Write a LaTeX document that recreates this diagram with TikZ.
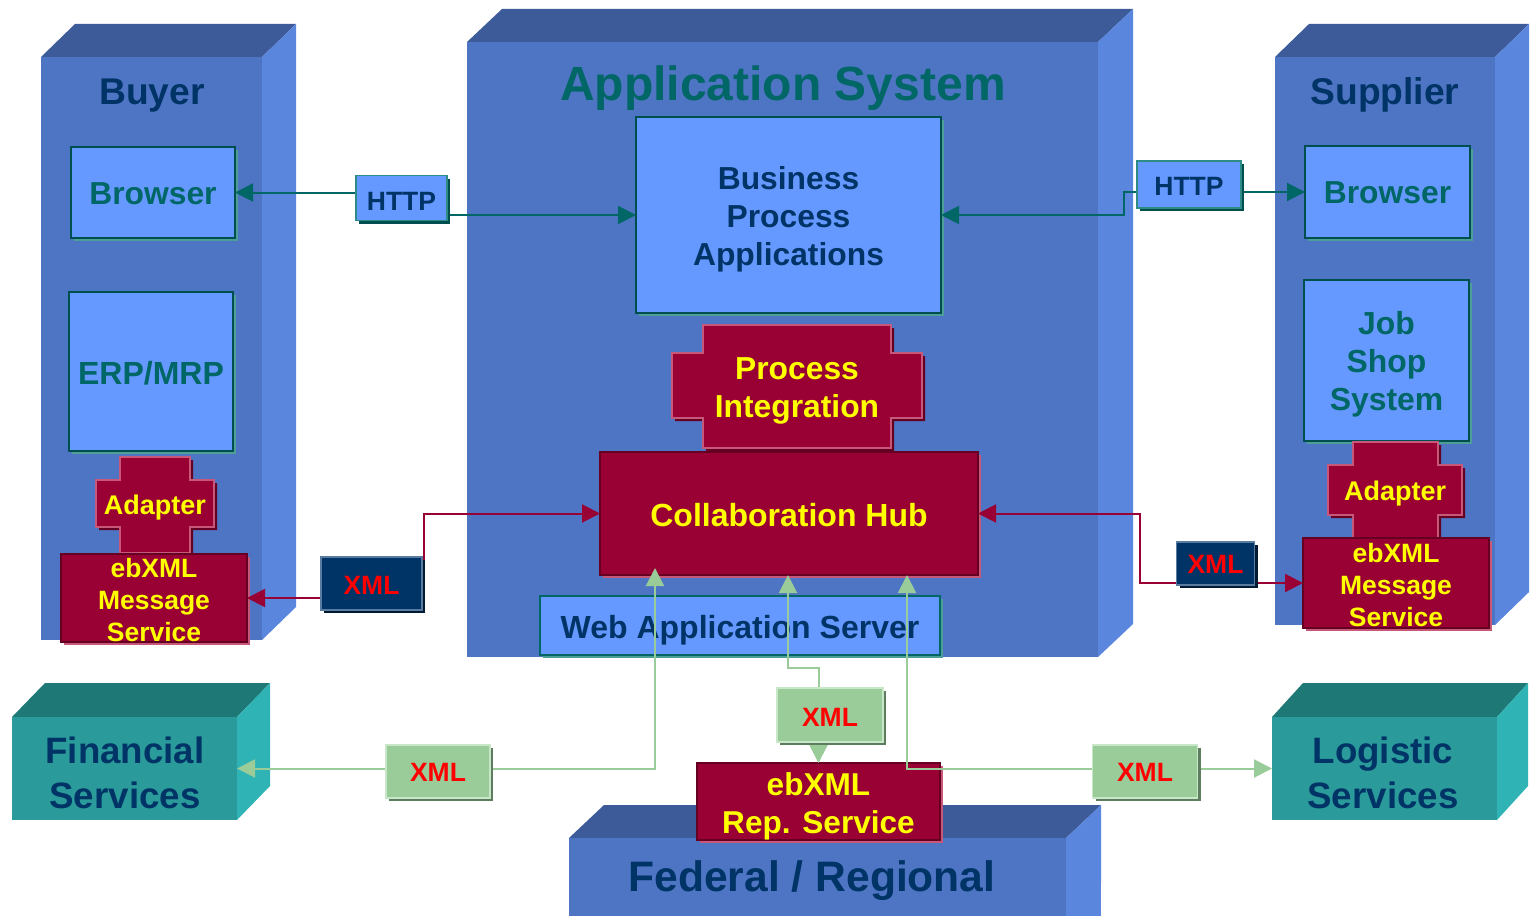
\documentclass[tikz,border=0pt]{standalone}
\usepackage{fontspec}
\setmainfont{Liberation Sans}
\usetikzlibrary{arrows.meta,shadows}
\definecolor{bluefront}{HTML}{4E75C3}
\definecolor{bluetop}{HTML}{3D5B98}
\definecolor{blueside}{HTML}{5A86DE}
\definecolor{tealfront}{HTML}{2A9B9A}
\definecolor{tealtop}{HTML}{1E7876}
\definecolor{tealside}{HTML}{2FB3B5}
\definecolor{lblue}{HTML}{6699FF}
\definecolor{dteal}{HTML}{004F4F}
\definecolor{tshadow}{HTML}{4E9E98}
\definecolor{ttext}{HTML}{006666}
\definecolor{navy}{HTML}{003366}
\definecolor{maroon}{HTML}{990033}
\definecolor{mdark}{HTML}{660022}
\definecolor{mpink}{HTML}{C8587A}
\definecolor{yel}{HTML}{FFFF00}
\definecolor{xmledge}{HTML}{5A7BA0}
\definecolor{xmlshadow}{HTML}{001A33}
\definecolor{lgreen}{HTML}{99CC99}
\definecolor{gedge}{HTML}{C8E6C8}
\definecolor{gshadow}{HTML}{5E7D5E}
\definecolor{hedge}{HTML}{2E8C86}
\definecolor{redtext}{HTML}{FF0000}
\newcommand\fsz[2]{\bfseries\fontsize{#1pt}{#2pt}\selectfont}
\newcommand\prism[7]{%
  \fill[#7top] (#1,#2) -- (#1+#5,#2-#6) -- (#3+#5,#2-#6) -- (#3,#2) -- cycle;
  \fill[#7side] (#3,#2) -- (#3+#5,#2-#6) -- (#3+#5,#4-#6) -- (#3,#4) -- cycle;
  \fill[#7front] (#1,#2) rectangle (#3,#4);}
\newcommand\plusshape[8]{%
  \fill[mdark,shift={(3,3)}] (#1,#3) -- (#2,#3) -- (#2,#7) -- (#6,#7) -- (#6,#8) -- (#2,#8) -- (#2,#4) -- (#1,#4) -- (#1,#8) -- (#5,#8) -- (#5,#7) -- (#1,#7) -- cycle;
  \filldraw[fill=maroon,draw=mpink,line width=1.5pt] (#1,#3) -- (#2,#3) -- (#2,#7) -- (#6,#7) -- (#6,#8) -- (#2,#8) -- (#2,#4) -- (#1,#4) -- (#1,#8) -- (#5,#8) -- (#5,#7) -- (#1,#7) -- cycle;}
\pgfdeclarelayer{back}
\pgfdeclarelayer{wires}
\pgfsetlayers{back,wires,main}
\begin{document}
\begin{tikzpicture}[x=1pt,y=-1pt,font=\bfseries,
  >={Triangle[length=18pt,width=18pt]},
  frame/.style={rectangle,inner sep=0pt,outer sep=0pt},
  lbox/.style={frame,fill=lblue,draw=dteal,line width=1.5pt,
    drop shadow={shadow xshift=3pt,shadow yshift=-3pt,fill=tshadow,opacity=1}},
  mbox/.style={frame,fill=maroon,draw=mdark,line width=1.5pt,
    drop shadow={shadow xshift=3pt,shadow yshift=-3pt,fill=mpink,opacity=1}},
  xbox/.style={frame,fill=navy,draw=xmledge,line width=1.5pt,
    drop shadow={shadow xshift=3pt,shadow yshift=-3pt,fill=xmlshadow,opacity=1}},
  gbox/.style={frame,fill=lgreen,draw=gedge,line width=1.5pt,
    drop shadow={shadow xshift=3pt,shadow yshift=-3pt,fill=gshadow,opacity=1}},
  hbox/.style={frame,fill=lblue,draw=hedge,line width=1.5pt,
    drop shadow={shadow xshift=3pt,shadow yshift=-3pt,fill=dteal,opacity=1}},
  txt/.style={inner sep=0pt,text=navy,align=center},
  tealtxt/.style={txt,text=ttext},
  yeltxt/.style={txt,text=yel},
  redtxt/.style={txt,text=redtext,font=\fsz{26.5}{32}},
  tline/.style={draw=ttext,line width=2pt},
  mline/.style={draw=maroon,line width=2pt},
  gline/.style={draw=lgreen,line width=2pt}]
\useasboundingbox (0,0) rectangle (1530,915);

\begin{pgfonlayer}{back}
\prism{41}{57}{262}{640}{34}{33}{blue}
\prism{467}{42}{1098}{657}{35}{33}{blue}
\prism{1275}{57}{1495}{625}{34}{33}{blue}
\prism{12}{717}{237}{820}{33}{34}{teal}
\prism{1272}{717}{1497}{820}{31}{34}{teal}
\prism{569}{838}{1066}{916}{35}{33}{blue}
\fill[blueside] (1066,838) rectangle (1101,916);

\node[frame,minimum width=225,minimum height=103] (fin) at (124.5,768.5) {};
\node[frame,minimum width=225,minimum height=103] (log) at (1384.5,768.5) {};
\node[txt,font=\fsz{36.7}{45}] (finT) at (125,773) {Financial\\Services};
\node[txt,font=\fsz{36.7}{45}] (logT) at (1383,773) {Logistic\\Services};
\node[txt,font=\fsz{37.2}{44}] (buyer) at (152,96) {Buyer};
\node[txt,font=\fsz{37.2}{44}] (supplier) at (1385,95) {Supplier};
\node[tealtxt,font=\fsz{48}{58}] (appsys) at (783,88) {Application System};
\node[txt,font=\fsz{42.6}{50}] (federal) at (812,881) {Federal / Regional};

\node[lbox,minimum width=164,minimum height=91] (bbrow) at (153,192.5) {};
\node[tealtxt,font=\fsz{31.8}{38}] (bbrowT) at ([yshift=-1pt]bbrow.center) {Browser};
\node[lbox,minimum width=164,minimum height=159] (berp) at (151,371.5) {};
\node[tealtxt,font=\fsz{32}{38}] (berpT) at ([yshift=-2pt]berp.center) {ERP/MRP};
\node[lbox,minimum width=165,minimum height=92] (sbrow) at (1387.5,192) {};
\node[tealtxt,font=\fsz{31.8}{38}] (sbrowT) at ([yshift=-1pt]sbrow.center) {Browser};
\node[lbox,minimum width=165,minimum height=161] (sjob) at (1386.5,360.5) {};
\node[tealtxt,font=\fsz{31.9}{38}] (sjobT) at ([yshift=-4pt]sjob.center) {Job\\Shop\\System};
\node[lbox,minimum width=305,minimum height=196] (bpa) at (788.5,215) {};
\node[txt,font=\fsz{31.8}{38}] (bpaT) at ([yshift=-4pt]bpa.center) {Business\\Process\\Applications};

\plusshape{120}{190}{457}{553}{96}{214}{480}{527}
\node[yeltxt,font=\fsz{27}{32}] (badapt) at (155,508) {Adapter};
\plusshape{1353}{1438}{442}{540}{1328}{1462}{465}{515}
\node[yeltxt,font=\fsz{27}{32}] (sadapt) at (1395,494) {Adapter};
\plusshape{703}{891}{325}{448}{672}{922}{353}{418}
\node[yeltxt,font=\fsz{31.8}{38}] (pint) at (797,391) {Process\\Integration};

\node[mbox,minimum width=186,minimum height=88] (bmsg) at (154,598) {};
\node[yeltxt,font=\fsz{26.5}{32}] (bmsgT) at ([yshift=-2pt]bmsg.center) {ebXML\\Message\\Service};
\node[mbox,minimum width=186,minimum height=90] (smsg) at (1396,583) {};
\node[yeltxt,font=\fsz{26.5}{32}] (smsgT) at ([yshift=-2pt]smsg.center) {ebXML\\Message\\Service};
\node[mbox,minimum width=378,minimum height=123] (hub) at (789,513.5) {};
\node[yeltxt,font=\fsz{32}{38}] (hubT) at ([yshift=-2pt]hub.center) {Collaboration Hub};
\node[lbox,draw=ttext,minimum width=400,minimum height=59] (was) at (740,625.5) {};
\node[txt,font=\fsz{32}{38}] (wasT) at ([yshift=-5pt]was.center) {Web Application Server};
\node[mbox,minimum width=243,minimum height=77] (rep) at (818.5,801.5) {};
\node[yeltxt,font=\fsz{31.6}{38}] (repT) at ([yshift=-5pt]rep.center) {ebXML\\Rep. Service};
\end{pgfonlayer}

\node[hbox,minimum width=91,minimum height=45] (httpL) at (401.5,198) {};
\node[txt,font=\fsz{26.5}{32}] (httpLT) at ([yshift=-3pt]httpL.center) {HTTP};
\node[hbox,minimum width=104,minimum height=47] (httpR) at (1189,184.5) {};
\node[txt,font=\fsz{26.5}{32}] (httpRT) at ([yshift=-2pt]httpR.center) {HTTP};
\node[xbox,minimum width=101,minimum height=53] (bxml) at (371.5,583.5) {};
\node[redtxt] (bxmlT) at ([yshift=-2pt]bxml.center) {XML};
\node[xbox,minimum width=78,minimum height=43] (sxml) at (1215.5,563.5) {};
\node[redtxt] (sxmlT) at ([yshift=-1pt]sxml.center) {XML};
\node[gbox,minimum width=104,minimum height=53] (gxml1) at (438,771.5) {};
\node[redtxt] (gxml1T) at ([yshift=-1pt]gxml1.center) {XML};
\node[gbox,minimum width=106,minimum height=54] (gxml2) at (830,715) {};
\node[redtxt] (gxml2T) at ([yshift=-2pt]gxml2.center) {XML};
\node[gbox,minimum width=105,minimum height=53] (gxml3) at (1145,771.5) {};
\node[redtxt] (gxml3T) at ([yshift=-1pt]gxml3.center) {XML};

\coordinate (jR) at (1124,0);
\coordinate (jB) at (424,0);
\coordinate (jS) at (1140,0);
\coordinate (g1) at (655,568);
\coordinate (g2) at (788,0);
\coordinate (g3) at (907,0);
\coordinate (k2) at (0,668);

\begin{pgfonlayer}{wires}
\draw[tline,->] (httpL.west |- bbrow.east) -- (bbrow.east);
\draw[tline,->] (httpL.east |- bpa.west) -- (bpa.west);
\draw[tline,<-] (bpa.east) -- (jR |- bpa.east) -- (jR |- sbrow.west) -- (httpR.west |- sbrow.west);
\draw[tline,->] (httpR.east |- sbrow.west) -- (sbrow.west);
\draw[mline,<->] (bmsg.east) -- (jB |- bmsg.east) -- (jB |- hub.west) -- (hub.west);
\draw[mline,<->] (hub.east) -- (jS |- hub.east) -- (jS |- smsg.west) -- (smsg.west);
\draw[gline,<->] (fin.east) -- (g1 |- fin.east) -- (g1);
\draw[gline,<-] (g2 |- hub.south) -- (g2 |- k2) -- (rep.north |- k2) -- (rep.north |- gxml2.north);
\draw[gline,->] (rep.north |- gxml2.south) -- (rep.north);
\draw[gline,<->] (g3 |- hub.south) -- (g3 |- log.west) -- (log.west);
\end{pgfonlayer}
\end{tikzpicture}
\end{document}
